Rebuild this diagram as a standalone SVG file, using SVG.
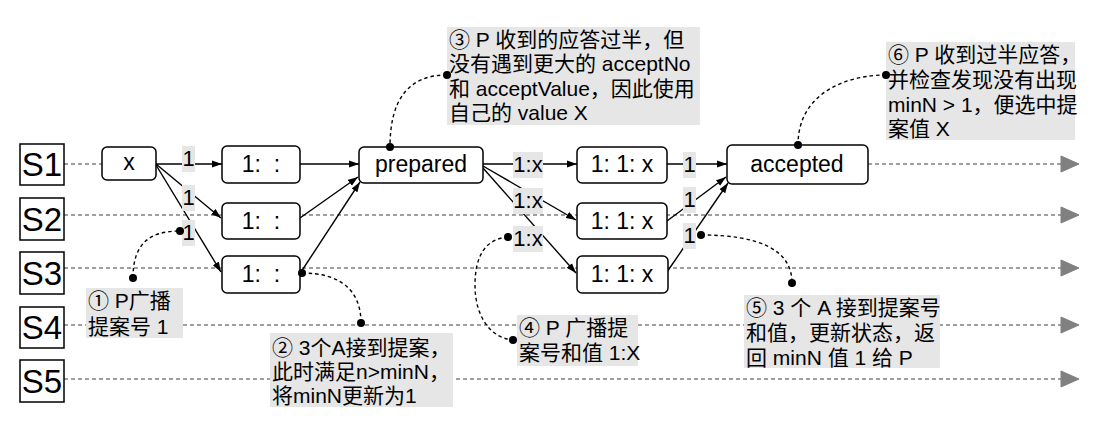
<svg xmlns="http://www.w3.org/2000/svg" width="1098" height="428" viewBox="0 0 1098 428">
<defs>
<style>
.lane{stroke:#808080;stroke-width:1.3;stroke-dasharray:4 3;fill:none}
.tri{fill:#808080;stroke:#808080;stroke-width:1}
.sbox{fill:#fff;stroke:#000;stroke-width:1.5}
.sl{font-family:"Liberation Sans","Noto Sans CJK SC",sans-serif;font-size:33px;fill:#000;text-anchor:middle}
.node{fill:#fff;stroke:#000;stroke-width:1.5}
.nt{font-family:"Liberation Sans","Noto Sans CJK SC",sans-serif;font-size:23px;fill:#000;text-anchor:middle}
.edge{stroke:#000;stroke-width:1.4;fill:none;marker-end:url(#arr)}
.lbg{fill:#e6e6e6}
.lt{font-family:"Liberation Sans","Noto Sans CJK SC",sans-serif;font-size:22px;fill:#000;text-anchor:middle}
.abox{fill:#e6e6e6}
.at{font-family:"Liberation Sans","Noto Sans CJK SC",sans-serif;font-size:21px;fill:#000}
.conn{stroke:#000;stroke-width:1.4;stroke-dasharray:3.5 3;fill:none}
.dot{fill:#000}
</style>
<marker id="arr" markerUnits="userSpaceOnUse" markerWidth="11" markerHeight="8" refX="10" refY="4" orient="auto">
<path d="M0,0.5 L10,4 L0,7.5 z" fill="#000"/>
</marker>
</defs>
<rect width="1098" height="428" fill="#fff"/>

<g id="lanes">
<line class="lane" x1="64" y1="164" x2="102" y2="164"/>
<line class="lane" x1="868" y1="164" x2="1061" y2="164"/>
<line class="lane" x1="64" y1="215" x2="1061" y2="215"/>
<line class="lane" x1="64" y1="268" x2="1061" y2="268"/>
<line class="lane" x1="64" y1="325" x2="1061" y2="325"/>
<line class="lane" x1="64" y1="379" x2="1061" y2="379"/>
<path class="tri" d="M1061,156 L1079,164 L1061,172 z"/>
<path class="tri" d="M1061,207 L1079,215 L1061,223 z"/>
<path class="tri" d="M1061,260 L1079,268 L1061,276 z"/>
<path class="tri" d="M1061,317 L1079,325 L1061,333 z"/>
<path class="tri" d="M1061,371 L1079,379 L1061,387 z"/>
</g>

<g id="servers">
<g id="S1"><rect class="sbox" x="20" y="144" width="44" height="41"/><text class="sl" x="42" y="176">S1</text></g>
<g id="S2"><rect class="sbox" x="20" y="198" width="44" height="42"/><text class="sl" x="42" y="231">S2</text></g>
<g id="S3"><rect class="sbox" x="20" y="252" width="44" height="42"/><text class="sl" x="42" y="285">S3</text></g>
<g id="S4"><rect class="sbox" x="20" y="307" width="44" height="41"/><text class="sl" x="42" y="339">S4</text></g>
<g id="S5"><rect class="sbox" x="20" y="360" width="44" height="42"/><text class="sl" x="42" y="393">S5</text></g>
</g>

<g id="connectors">
<line class="edge" x1="156" y1="164" x2="222" y2="164"/>
<line class="edge" x1="156" y1="164" x2="221" y2="218"/>
<line class="edge" x1="156" y1="165" x2="221" y2="272"/>
<line class="edge" x1="300" y1="164" x2="359" y2="164"/>
<line class="edge" x1="300" y1="218" x2="358" y2="177"/>
<line class="edge" x1="301" y1="272" x2="360" y2="182"/>
<line class="edge" x1="483" y1="164" x2="577" y2="164"/>
<line class="edge" x1="483" y1="166" x2="576" y2="220"/>
<line class="edge" x1="483" y1="168" x2="576" y2="273"/>
<line class="edge" x1="667" y1="164" x2="727" y2="164"/>
<line class="edge" x1="667" y1="221" x2="726" y2="177"/>
<line class="edge" x1="667" y1="272" x2="728" y2="183"/>
<g id="edge-labels">
<rect class="lbg" x="182" y="146" width="13" height="26"/><text class="lt" x="188.5" y="166">1</text>
<rect class="lbg" x="182" y="185" width="13" height="26"/><text class="lt" x="188.5" y="205">1</text>
<rect class="lbg" x="182" y="220" width="13" height="26"/><text class="lt" x="188.5" y="240">1</text>
<rect class="lbg" x="513" y="152" width="30" height="26"/><text class="lt" x="528" y="172">1:x</text>
<rect class="lbg" x="513" y="188" width="30" height="26"/><text class="lt" x="528" y="208">1:x</text>
<rect class="lbg" x="513" y="226" width="30" height="26"/><text class="lt" x="528" y="246">1:x</text>
<rect class="lbg" x="683" y="152" width="13" height="26"/><text class="lt" x="689.5" y="172">1</text>
<rect class="lbg" x="683" y="187" width="13" height="26"/><text class="lt" x="689.5" y="207">1</text>
<rect class="lbg" x="683" y="223" width="13" height="26"/><text class="lt" x="689.5" y="243">1</text>
</g>
</g>

<g id="n-x"><rect class="node" x="102" y="147" width="54" height="33" rx="5"/><text class="nt" x="129" y="170">x</text></g>
<g id="n-a1"><rect class="node" x="222" y="146" width="78" height="37" rx="5"/><text class="nt" x="261" y="172" xml:space="preserve">1:  :</text></g>
<g id="n-a2"><rect class="node" x="222" y="203" width="78" height="36" rx="5"/><text class="nt" x="261" y="229" xml:space="preserve">1:  :</text></g>
<g id="n-a3"><rect class="node" x="222" y="256" width="78" height="37" rx="5"/><text class="nt" x="261" y="282" xml:space="preserve">1:  :</text></g>
<g id="n-prepared"><rect class="node" x="359" y="147" width="124" height="36" rx="5"/><text class="nt" x="421" y="172">prepared</text></g>
<g id="n-b1"><rect class="node" x="577" y="147" width="90" height="36" rx="5"/><text class="nt" x="622" y="172">1: 1: x</text></g>
<g id="n-b2"><rect class="node" x="577" y="203" width="90" height="36" rx="5"/><text class="nt" x="622" y="229">1: 1: x</text></g>
<g id="n-b3"><rect class="node" x="577" y="256" width="91" height="37" rx="5"/><text class="nt" x="622" y="282">1: 1: x</text></g>
<g id="n-accepted"><rect class="node" x="727" y="145" width="141" height="39" rx="5"/><text class="nt" x="797" y="172">accepted</text></g>

<g id="note1"><rect class="abox" x="86" y="288" width="97" height="50"/>
<text class="at" x="88" y="308">① P广播</text><text class="at" x="88" y="334">提案号 1</text></g>
<g id="note2"><rect class="abox" x="270" y="333" width="183" height="74"/>
<text class="at" x="272" y="355">② 3个A接到提案，</text><text class="at" x="272" y="379">此时满足n&gt;minN，</text><text class="at" x="272" y="403">将minN更新为1</text></g>
<g id="note3"><rect class="abox" x="447" y="27" width="253" height="98"/>
<text class="at" x="449" y="47">③ P 收到的应答过半，但</text><text class="at" x="449" y="71">没有遇到更大的 acceptNo</text><text class="at" x="449" y="96">和 acceptValue，因此使用</text><text class="at" x="449" y="120">自己的 value X</text></g>
<g id="note4"><rect class="abox" x="517" y="315" width="121" height="51"/>
<text class="at" x="519" y="335">④ P 广播提</text><text class="at" x="519" y="360">案号和值 1:X</text></g>
<g id="note5"><rect class="abox" x="744" y="295" width="196" height="73"/>
<text class="at" x="746" y="315">⑤ 3 个 A 接到提案号</text><text class="at" x="746" y="340">和值，更新状态，返</text><text class="at" x="746" y="365">回 minN 值 1 给 P</text></g>
<g id="note6"><rect class="abox" x="886" y="42" width="189" height="98"/>
<text class="at" x="888" y="62">⑥ P 收到过半应答，</text><text class="at" x="888" y="87">并检查发现没有出现</text><text class="at" x="888" y="112">minN &gt; 1，便选中提</text><text class="at" x="888" y="136">案值 X</text></g>

<g id="note-connectors">
<path class="conn" d="M133,278 C133,245 148,231 180,231"/>
<circle class="dot" cx="133" cy="278" r="4"/><circle class="dot" cx="180" cy="231" r="4"/>
<path class="conn" d="M302,273 C340,273 361,290 361,323"/>
<circle class="dot" cx="302" cy="273" r="4"/><circle class="dot" cx="361" cy="323" r="4"/>
<path class="conn" d="M447,75 C408,75 390,100 390,147"/>
<circle class="dot" cx="447" cy="75" r="4"/><circle class="dot" cx="390" cy="147" r="4"/>
<path class="conn" d="M508,237 C484,239 475,258 475,285 C475,316 490,338 513,340"/>
<circle class="dot" cx="508" cy="237" r="4"/><circle class="dot" cx="513" cy="340" r="4"/>
<path class="conn" d="M701,235 C760,235 792,250 792,283"/>
<circle class="dot" cx="701" cy="235" r="4"/><circle class="dot" cx="792" cy="283" r="4"/>
<path class="conn" d="M886,75 C848,75 798,92 798,145"/>
<circle class="dot" cx="886" cy="75" r="4"/><circle class="dot" cx="798" cy="145" r="4"/>
</g>
</svg>
